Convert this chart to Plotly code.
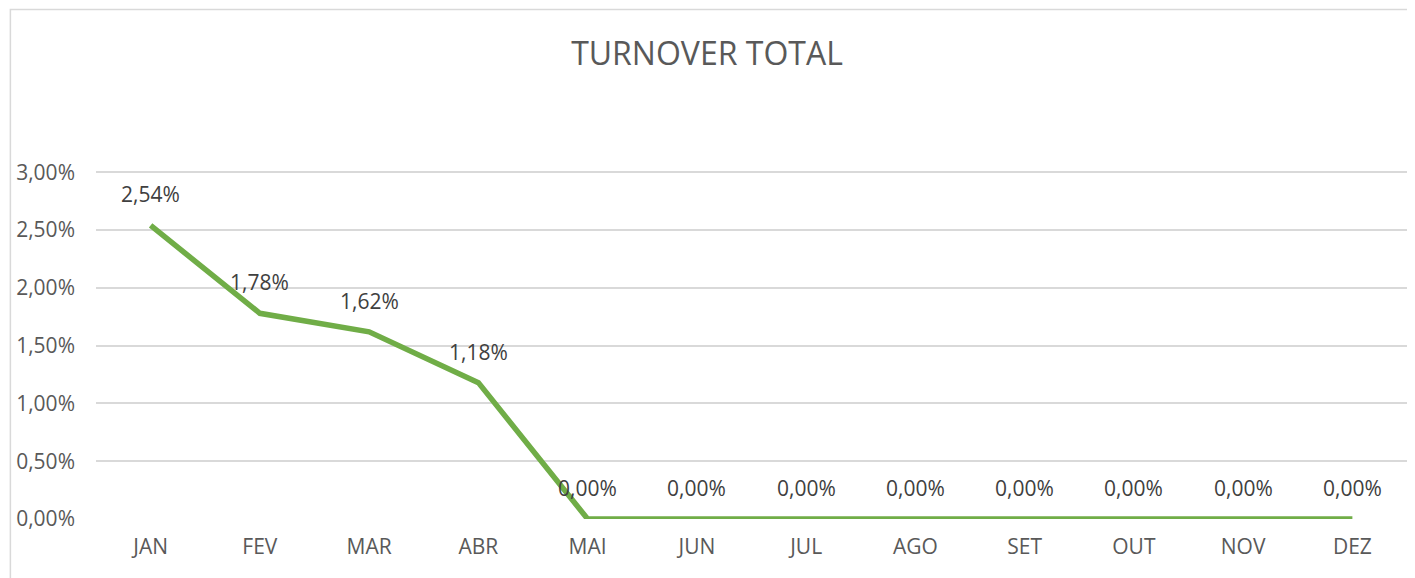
import plotly.graph_objects as go

meses = ['JAN', 'FEV', 'MAR', 'ABR', 'MAI', 'JUN', 'JUL', 'AGO', 'SET', 'OUT', 'NOV', 'DEZ']
turnover = [0.0254, 0.0178, 0.0162, 0.0118, 0, 0, 0, 0, 0, 0, 0, 0]
y_ticks = [0, 0.005, 0.01, 0.015, 0.02, 0.025, 0.03]

fig = go.Figure()
fig.add_trace(go.Scatter(x=meses, y=turnover, mode='lines',
                         line=dict(color='#70AD47', width=5.5), hoverinfo='skip'))

# rotulos de dados acima de cada ponto
for m, v in zip(meses, turnover):
    fig.add_annotation(x=m, y=v, text=f"{v*100:.2f}%".replace('.', ','),
                       showarrow=False, yshift=31,
                       font=dict(family='Open Sans', size=21, color='#404040'))

# borda do grafico
fig.add_shape(type='rect', xref='paper', yref='paper',
              x0=-0.0653, x1=1.0008, y0=-0.3, y1=1.46,
              line=dict(color='#d9d9d9', width=1.5), fillcolor='rgba(0,0,0,0)')

# a pagina tem 8px de margem no body, por isso 1407x570
fig.update_layout(
    width=1407, height=570,
    margin=dict(l=82, r=8, t=162, b=59),
    paper_bgcolor='white', plot_bgcolor='white',
    separators=',.',
    showlegend=False,
    title=dict(text='TURNOVER TOTAL', x=(707 - 8) / 1407, xref='container', xanchor='center',
               y=1 - 46 / 570, yref='container', yanchor='middle',
               font=dict(family='Open Sans', size=32, color='#595959')),
    font=dict(family='Open Sans', size=21, color='#595959'),
)
fig.update_xaxes(showgrid=False, showline=False, zeroline=False,
                 range=[-0.5, 11.5], ticks='', ticklabelstandoff=13,
                 tickfont=dict(size=21, color='#595959'))
fig.update_yaxes(range=[0, 0.0302], tickvals=y_ticks, tickformat='.2%',
                 showgrid=True, gridcolor='#d9d9d9', gridwidth=1.5,
                 zeroline=False, showline=False, ticks='', ticklabelstandoff=20,
                 tickfont=dict(size=21, color='#595959'))

fig.write_html("out.html")
